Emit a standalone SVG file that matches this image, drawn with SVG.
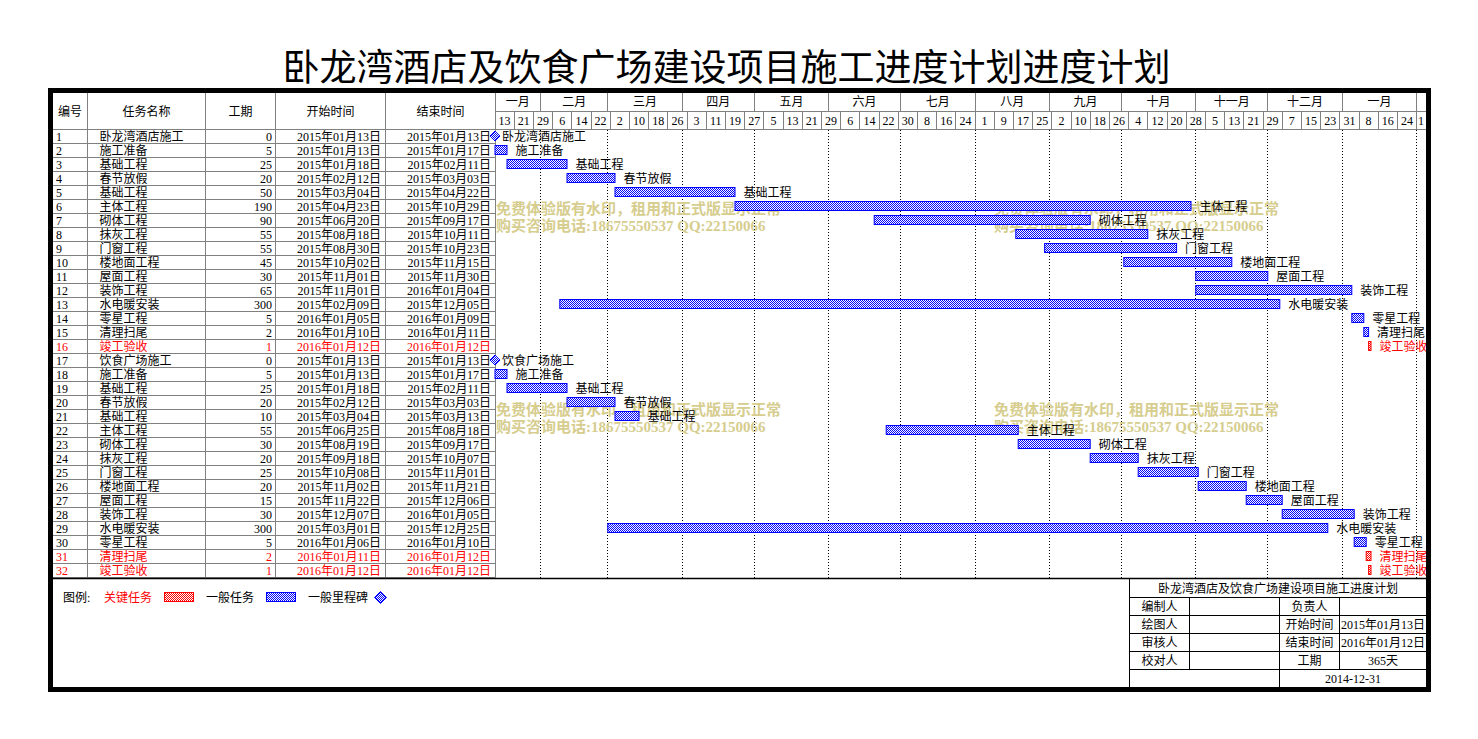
<svg xmlns="http://www.w3.org/2000/svg" width="1478" height="739" viewBox="0 0 1478 739">
<style>
.t{font-family:"Liberation Serif","Noto Sans CJK SC",serif;font-size:12px;fill:#000}
.r{fill:#f00}
.e{text-anchor:end}
.m{text-anchor:middle}
.g{stroke:#808080;stroke-width:1;fill:none}
.k{stroke:#000;stroke-width:1;fill:none}
.dot{stroke:#000;stroke-width:1;stroke-dasharray:1 2;fill:none}
.bar{fill:url(#pb);stroke:#00f;stroke-width:1}
.rbar{fill:url(#pr);stroke:#f00;stroke-width:1}
.ms{fill:url(#pb);stroke:#00f;stroke-width:1}
.wm{font-family:"Liberation Serif","Noto Sans CJK SC",serif;font-size:15px;font-weight:bold;fill:#d6cd8e}
.title{font-family:"Noto Sans CJK SC",sans-serif;font-size:37px;fill:#000}
</style>
<defs>
<pattern id="pb" width="2" height="2" patternUnits="userSpaceOnUse"><rect width="2" height="2" fill="#fff"/><rect width="1" height="1" fill="#00f"/><rect x="1" y="1" width="1" height="1" fill="#00f"/></pattern>
<pattern id="pr" width="2" height="2" patternUnits="userSpaceOnUse"><rect width="2" height="2" fill="#fff"/><rect width="1" height="1" fill="#f00"/><rect x="1" y="1" width="1" height="1" fill="#f00"/></pattern>
</defs>
<rect width="1478" height="739" fill="#fff"/>
<text class="title m" x="726.5" y="81">卧龙湾酒店及饮食广场建设项目施工进度计划进度计划</text>

<g id="grid">
<path class="g" d="M87.5 93V577.5M205.5 93V577.5M275.5 93V577.5M385.5 93V577.5M495.5 93V577.5"/>
<path class="g" d="M53 129.5H1426M495.5 111.5H1426"/>
<path class="g" d="M53 143.5H495.5M53 157.5H495.5M53 171.5H495.5M53 185.5H495.5M53 199.5H495.5M53 213.5H495.5M53 227.5H495.5M53 241.5H495.5M53 255.5H495.5M53 269.5H495.5M53 283.5H495.5M53 297.5H495.5M53 311.5H495.5M53 325.5H495.5M53 339.5H495.5M53 353.5H495.5M53 367.5H495.5M53 381.5H495.5M53 395.5H495.5M53 409.5H495.5M53 423.5H495.5M53 437.5H495.5M53 451.5H495.5M53 465.5H495.5M53 479.5H495.5M53 493.5H495.5M53 507.5H495.5M53 521.5H495.5M53 535.5H495.5M53 549.5H495.5M53 563.5H495.5M53 577.5H495.5"/>
<path class="g" d="M540.5 93V111.5M607.5 93V111.5M682.5 93V111.5M754.5 93V111.5M828.5 93V111.5M900.5 93V111.5M975.5 93V111.5M1049.5 93V111.5M1121.5 93V111.5M1195.5 93V111.5M1267.5 93V111.5M1342.5 93V111.5M1416.5 93V111.5"/>
<path class="g" d="M514.5 111.5V129.5M533.5 111.5V129.5M552.5 111.5V129.5M571.5 111.5V129.5M591.5 111.5V129.5M610.5 111.5V129.5M629.5 111.5V129.5M648.5 111.5V129.5M667.5 111.5V129.5M687.5 111.5V129.5M706.5 111.5V129.5M725.5 111.5V129.5M744.5 111.5V129.5M763.5 111.5V129.5M783.5 111.5V129.5M802.5 111.5V129.5M821.5 111.5V129.5M840.5 111.5V129.5M859.5 111.5V129.5M879.5 111.5V129.5M898.5 111.5V129.5M917.5 111.5V129.5M936.5 111.5V129.5M955.5 111.5V129.5M975.5 111.5V129.5M994.5 111.5V129.5M1013.5 111.5V129.5M1032.5 111.5V129.5M1051.5 111.5V129.5M1071.5 111.5V129.5M1090.5 111.5V129.5M1109.5 111.5V129.5M1128.5 111.5V129.5M1147.5 111.5V129.5M1167.5 111.5V129.5M1186.5 111.5V129.5M1205.5 111.5V129.5M1224.5 111.5V129.5M1243.5 111.5V129.5M1263.5 111.5V129.5M1282.5 111.5V129.5M1301.5 111.5V129.5M1320.5 111.5V129.5M1339.5 111.5V129.5M1359.5 111.5V129.5M1378.5 111.5V129.5M1397.5 111.5V129.5M1416.5 111.5V129.5"/>
<path class="dot" d="M540.5 130V578M607.5 130V578M682.5 130V578M754.5 130V578M828.5 130V578M900.5 130V578M975.5 130V578M1049.5 130V578M1121.5 130V578M1195.5 130V578M1267.5 130V578M1342.5 130V578M1416.5 130V578"/>
<path d="M53 578.5H1426" stroke="#000" stroke-width="1.5"/>
</g>

<g id="header">
<text class="t m" x="70" y="115.5">编号</text>
<text class="t m" x="146.5" y="115.5">任务名称</text>
<text class="t m" x="240.5" y="115.5">工期</text>
<text class="t m" x="330.5" y="115.5">开始时间</text>
<text class="t m" x="440.5" y="115.5">结束时间</text>
<text class="t m" x="517.8" y="106">一月</text>
<text class="t m" x="574.2" y="106">二月</text>
<text class="t m" x="645" y="106">三月</text>
<text class="t m" x="718.2" y="106">四月</text>
<text class="t m" x="791.4" y="106">五月</text>
<text class="t m" x="864.6" y="106">六月</text>
<text class="t m" x="937.8" y="106">七月</text>
<text class="t m" x="1012.2" y="106">八月</text>
<text class="t m" x="1085.4" y="106">九月</text>
<text class="t m" x="1158.6" y="106">十月</text>
<text class="t m" x="1231.8" y="106">十一月</text>
<text class="t m" x="1305" y="106">十二月</text>
<text class="t m" x="1379.4" y="106">一月</text>
<text class="t m" y="124.5"><tspan x="504.6">13</tspan><tspan x="523.8">21</tspan><tspan x="543">29</tspan><tspan x="562.2">6</tspan><tspan x="581.4">14</tspan><tspan x="600.6">22</tspan><tspan x="619.8">2</tspan><tspan x="639">10</tspan><tspan x="658.2">18</tspan><tspan x="677.4">26</tspan><tspan x="696.6">3</tspan><tspan x="715.8">11</tspan><tspan x="735">19</tspan><tspan x="754.2">27</tspan><tspan x="773.4">5</tspan><tspan x="792.6">13</tspan><tspan x="811.8">21</tspan><tspan x="831">29</tspan><tspan x="850.2">6</tspan><tspan x="869.4">14</tspan><tspan x="888.6">22</tspan><tspan x="907.8">30</tspan><tspan x="927">8</tspan><tspan x="946.2">16</tspan><tspan x="965.4">24</tspan><tspan x="984.6">1</tspan><tspan x="1003.8">9</tspan><tspan x="1023">17</tspan><tspan x="1042.2">25</tspan><tspan x="1061.4">2</tspan><tspan x="1080.6">10</tspan><tspan x="1099.8">18</tspan><tspan x="1119">26</tspan><tspan x="1138.2">4</tspan><tspan x="1157.4">12</tspan><tspan x="1176.6">20</tspan><tspan x="1195.8">28</tspan><tspan x="1215">5</tspan><tspan x="1234.2">13</tspan><tspan x="1253.4">21</tspan><tspan x="1272.6">29</tspan><tspan x="1291.8">7</tspan><tspan x="1311">15</tspan><tspan x="1330.2">23</tspan><tspan x="1349.4">31</tspan><tspan x="1368.6">8</tspan><tspan x="1387.8">16</tspan><tspan x="1407">24</tspan><tspan x="1421">1</tspan></text>
</g>

<g id="watermarks">
<text class="wm" x="496" y="214">免费体验版有水印，租用和正式版显示正常</text>
<text class="wm" x="496" y="231">购买咨询电话:18675550537 QQ:22150066</text>
<text class="wm" x="994" y="214">免费体验版有水印，租用和正式版显示正常</text>
<text class="wm" x="994" y="231">购买咨询电话:18675550537 QQ:22150066</text>
<text class="wm" x="496" y="414.5">免费体验版有水印，租用和正式版显示正常</text>
<text class="wm" x="496" y="432">购买咨询电话:18675550537 QQ:22150066</text>
<text class="wm" x="994" y="414.5">免费体验版有水印，租用和正式版显示正常</text>
<text class="wm" x="994" y="432">购买咨询电话:18675550537 QQ:22150066</text>
</g>

<g id="connectors"></g>

<g id="task-1"><text class="t" x="56" y="141">1</text><text class="t" x="99.5" y="141">卧龙湾酒店施工</text><text class="t e" x="272" y="141">0</text><text class="t e" x="381" y="141">2015年01月13日</text><text class="t e" x="491" y="141">2015年01月13日</text><polygon class="ms" points="495,131 500,136 495,141 490,136"/><text class="t" x="502" y="141">卧龙湾酒店施工</text></g>
<g id="task-2"><text class="t" x="56" y="155">2</text><text class="t" x="99.5" y="155">施工准备</text><text class="t e" x="272" y="155">5</text><text class="t e" x="381" y="155">2015年01月13日</text><text class="t e" x="491" y="155">2015年01月17日</text><rect class="bar" x="495" y="145.5" width="12" height="9"/><text class="t" x="515.5" y="155">施工准备</text></g>
<g id="task-3"><text class="t" x="56" y="169">3</text><text class="t" x="99.5" y="169">基础工程</text><text class="t e" x="272" y="169">25</text><text class="t e" x="381" y="169">2015年01月18日</text><text class="t e" x="491" y="169">2015年02月11日</text><rect class="bar" x="507" y="159.5" width="60" height="9"/><text class="t" x="575.5" y="169">基础工程</text></g>
<g id="task-4"><text class="t" x="56" y="183">4</text><text class="t" x="99.5" y="183">春节放假</text><text class="t e" x="272" y="183">20</text><text class="t e" x="381" y="183">2015年02月12日</text><text class="t e" x="491" y="183">2015年03月03日</text><rect class="bar" x="567" y="173.5" width="48" height="9"/><text class="t" x="623.5" y="183">春节放假</text></g>
<g id="task-5"><text class="t" x="56" y="197">5</text><text class="t" x="99.5" y="197">基础工程</text><text class="t e" x="272" y="197">50</text><text class="t e" x="381" y="197">2015年03月04日</text><text class="t e" x="491" y="197">2015年04月22日</text><rect class="bar" x="615" y="187.5" width="120" height="9"/><text class="t" x="743.5" y="197">基础工程</text></g>
<g id="task-6"><text class="t" x="56" y="211">6</text><text class="t" x="99.5" y="211">主体工程</text><text class="t e" x="272" y="211">190</text><text class="t e" x="381" y="211">2015年04月23日</text><text class="t e" x="491" y="211">2015年10月29日</text><rect class="bar" x="735" y="201.5" width="456" height="9"/><text class="t" x="1199.5" y="211">主体工程</text></g>
<g id="task-7"><text class="t" x="56" y="225">7</text><text class="t" x="99.5" y="225">砌体工程</text><text class="t e" x="272" y="225">90</text><text class="t e" x="381" y="225">2015年06月20日</text><text class="t e" x="491" y="225">2015年09月17日</text><rect class="bar" x="874.2" y="215.5" width="216" height="9"/><text class="t" x="1098.7" y="225">砌体工程</text></g>
<g id="task-8"><text class="t" x="56" y="239">8</text><text class="t" x="99.5" y="239">抹灰工程</text><text class="t e" x="272" y="239">55</text><text class="t e" x="381" y="239">2015年08月18日</text><text class="t e" x="491" y="239">2015年10月11日</text><rect class="bar" x="1015.8" y="229.5" width="132" height="9"/><text class="t" x="1156.3" y="239">抹灰工程</text></g>
<g id="task-9"><text class="t" x="56" y="253">9</text><text class="t" x="99.5" y="253">门窗工程</text><text class="t e" x="272" y="253">55</text><text class="t e" x="381" y="253">2015年08月30日</text><text class="t e" x="491" y="253">2015年10月23日</text><rect class="bar" x="1044.6" y="243.5" width="132" height="9"/><text class="t" x="1185.1" y="253">门窗工程</text></g>
<g id="task-10"><text class="t" x="56" y="267">10</text><text class="t" x="99.5" y="267">楼地面工程</text><text class="t e" x="272" y="267">45</text><text class="t e" x="381" y="267">2015年10月02日</text><text class="t e" x="491" y="267">2015年11月15日</text><rect class="bar" x="1123.8" y="257.5" width="108" height="9"/><text class="t" x="1240.3" y="267">楼地面工程</text></g>
<g id="task-11"><text class="t" x="56" y="281">11</text><text class="t" x="99.5" y="281">屋面工程</text><text class="t e" x="272" y="281">30</text><text class="t e" x="381" y="281">2015年11月01日</text><text class="t e" x="491" y="281">2015年11月30日</text><rect class="bar" x="1195.8" y="271.5" width="72" height="9"/><text class="t" x="1276.3" y="281">屋面工程</text></g>
<g id="task-12"><text class="t" x="56" y="295">12</text><text class="t" x="99.5" y="295">装饰工程</text><text class="t e" x="272" y="295">65</text><text class="t e" x="381" y="295">2015年11月01日</text><text class="t e" x="491" y="295">2016年01月04日</text><rect class="bar" x="1195.8" y="285.5" width="156" height="9"/><text class="t" x="1360.3" y="295">装饰工程</text></g>
<g id="task-13"><text class="t" x="56" y="309">13</text><text class="t" x="99.5" y="309">水电暖安装</text><text class="t e" x="272" y="309">300</text><text class="t e" x="381" y="309">2015年02月09日</text><text class="t e" x="491" y="309">2015年12月05日</text><rect class="bar" x="559.8" y="299.5" width="720" height="9"/><text class="t" x="1288.3" y="309">水电暖安装</text></g>
<g id="task-14"><text class="t" x="56" y="323">14</text><text class="t" x="99.5" y="323">零星工程</text><text class="t e" x="272" y="323">5</text><text class="t e" x="381" y="323">2016年01月05日</text><text class="t e" x="491" y="323">2016年01月09日</text><rect class="bar" x="1351.8" y="313.5" width="12" height="9"/><text class="t" x="1372.3" y="323">零星工程</text></g>
<g id="task-15"><text class="t" x="56" y="337">15</text><text class="t" x="99.5" y="337">清理扫尾</text><text class="t e" x="272" y="337">2</text><text class="t e" x="381" y="337">2016年01月10日</text><text class="t e" x="491" y="337">2016年01月11日</text><rect class="bar" x="1363.8" y="327.5" width="4.8" height="9"/><text class="t" x="1377.1" y="337">清理扫尾</text></g>
<g id="task-16"><text class="t r" x="56" y="351">16</text><text class="t r" x="99.5" y="351">竣工验收</text><text class="t r e" x="272" y="351">1</text><text class="t r e" x="381" y="351">2016年01月12日</text><text class="t r e" x="491" y="351">2016年01月12日</text><rect class="rbar" x="1368.6" y="341.5" width="2.4" height="9"/><text class="t r" x="1379.5" y="351">竣工验收</text></g>
<g id="task-17"><text class="t" x="56" y="365">17</text><text class="t" x="99.5" y="365">饮食广场施工</text><text class="t e" x="272" y="365">0</text><text class="t e" x="381" y="365">2015年01月13日</text><text class="t e" x="491" y="365">2015年01月13日</text><polygon class="ms" points="495,355 500,360 495,365 490,360"/><text class="t" x="502" y="365">饮食广场施工</text></g>
<g id="task-18"><text class="t" x="56" y="379">18</text><text class="t" x="99.5" y="379">施工准备</text><text class="t e" x="272" y="379">5</text><text class="t e" x="381" y="379">2015年01月13日</text><text class="t e" x="491" y="379">2015年01月17日</text><rect class="bar" x="495" y="369.5" width="12" height="9"/><text class="t" x="515.5" y="379">施工准备</text></g>
<g id="task-19"><text class="t" x="56" y="393">19</text><text class="t" x="99.5" y="393">基础工程</text><text class="t e" x="272" y="393">25</text><text class="t e" x="381" y="393">2015年01月18日</text><text class="t e" x="491" y="393">2015年02月11日</text><rect class="bar" x="507" y="383.5" width="60" height="9"/><text class="t" x="575.5" y="393">基础工程</text></g>
<g id="task-20"><text class="t" x="56" y="407">20</text><text class="t" x="99.5" y="407">春节放假</text><text class="t e" x="272" y="407">20</text><text class="t e" x="381" y="407">2015年02月12日</text><text class="t e" x="491" y="407">2015年03月03日</text><rect class="bar" x="567" y="397.5" width="48" height="9"/><text class="t" x="623.5" y="407">春节放假</text></g>
<g id="task-21"><text class="t" x="56" y="421">21</text><text class="t" x="99.5" y="421">基础工程</text><text class="t e" x="272" y="421">10</text><text class="t e" x="381" y="421">2015年03月04日</text><text class="t e" x="491" y="421">2015年03月13日</text><rect class="bar" x="615" y="411.5" width="24" height="9"/><text class="t" x="647.5" y="421">基础工程</text></g>
<g id="task-22"><text class="t" x="56" y="435">22</text><text class="t" x="99.5" y="435">主体工程</text><text class="t e" x="272" y="435">55</text><text class="t e" x="381" y="435">2015年06月25日</text><text class="t e" x="491" y="435">2015年08月18日</text><rect class="bar" x="886.2" y="425.5" width="132" height="9"/><text class="t" x="1026.7" y="435">主体工程</text></g>
<g id="task-23"><text class="t" x="56" y="449">23</text><text class="t" x="99.5" y="449">砌体工程</text><text class="t e" x="272" y="449">30</text><text class="t e" x="381" y="449">2015年08月19日</text><text class="t e" x="491" y="449">2015年09月17日</text><rect class="bar" x="1018.2" y="439.5" width="72" height="9"/><text class="t" x="1098.7" y="449">砌体工程</text></g>
<g id="task-24"><text class="t" x="56" y="463">24</text><text class="t" x="99.5" y="463">抹灰工程</text><text class="t e" x="272" y="463">20</text><text class="t e" x="381" y="463">2015年09月18日</text><text class="t e" x="491" y="463">2015年10月07日</text><rect class="bar" x="1090.2" y="453.5" width="48" height="9"/><text class="t" x="1146.7" y="463">抹灰工程</text></g>
<g id="task-25"><text class="t" x="56" y="477">25</text><text class="t" x="99.5" y="477">门窗工程</text><text class="t e" x="272" y="477">25</text><text class="t e" x="381" y="477">2015年10月08日</text><text class="t e" x="491" y="477">2015年11月01日</text><rect class="bar" x="1138.2" y="467.5" width="60" height="9"/><text class="t" x="1206.7" y="477">门窗工程</text></g>
<g id="task-26"><text class="t" x="56" y="491">26</text><text class="t" x="99.5" y="491">楼地面工程</text><text class="t e" x="272" y="491">20</text><text class="t e" x="381" y="491">2015年11月02日</text><text class="t e" x="491" y="491">2015年11月21日</text><rect class="bar" x="1198.2" y="481.5" width="48" height="9"/><text class="t" x="1254.7" y="491">楼地面工程</text></g>
<g id="task-27"><text class="t" x="56" y="505">27</text><text class="t" x="99.5" y="505">屋面工程</text><text class="t e" x="272" y="505">15</text><text class="t e" x="381" y="505">2015年11月22日</text><text class="t e" x="491" y="505">2015年12月06日</text><rect class="bar" x="1246.2" y="495.5" width="36" height="9"/><text class="t" x="1290.7" y="505">屋面工程</text></g>
<g id="task-28"><text class="t" x="56" y="519">28</text><text class="t" x="99.5" y="519">装饰工程</text><text class="t e" x="272" y="519">30</text><text class="t e" x="381" y="519">2015年12月07日</text><text class="t e" x="491" y="519">2016年01月05日</text><rect class="bar" x="1282.2" y="509.5" width="72" height="9"/><text class="t" x="1362.7" y="519">装饰工程</text></g>
<g id="task-29"><text class="t" x="56" y="533">29</text><text class="t" x="99.5" y="533">水电暖安装</text><text class="t e" x="272" y="533">300</text><text class="t e" x="381" y="533">2015年03月01日</text><text class="t e" x="491" y="533">2015年12月25日</text><rect class="bar" x="607.8" y="523.5" width="720" height="9"/><text class="t" x="1336.3" y="533">水电暖安装</text></g>
<g id="task-30"><text class="t" x="56" y="547">30</text><text class="t" x="99.5" y="547">零星工程</text><text class="t e" x="272" y="547">5</text><text class="t e" x="381" y="547">2016年01月06日</text><text class="t e" x="491" y="547">2016年01月10日</text><rect class="bar" x="1354.2" y="537.5" width="12" height="9"/><text class="t" x="1374.7" y="547">零星工程</text></g>
<g id="task-31"><text class="t r" x="56" y="561">31</text><text class="t r" x="99.5" y="561">清理扫尾</text><text class="t r e" x="272" y="561">2</text><text class="t r e" x="381" y="561">2016年01月11日</text><text class="t r e" x="491" y="561">2016年01月12日</text><rect class="rbar" x="1366.2" y="551.5" width="4.8" height="9"/><text class="t r" x="1379.5" y="561">清理扫尾</text></g>
<g id="task-32"><text class="t r" x="56" y="575">32</text><text class="t r" x="99.5" y="575">竣工验收</text><text class="t r e" x="272" y="575">1</text><text class="t r e" x="381" y="575">2016年01月12日</text><text class="t r e" x="491" y="575">2016年01月12日</text><rect class="rbar" x="1368.6" y="565.5" width="2.4" height="9"/><text class="t r" x="1379.5" y="575">竣工验收</text></g>

<g id="legend">
<text class="t" x="63" y="601.5">图例:</text>
<text class="t r" x="104" y="601.5">关键任务</text>
<rect class="rbar" x="164.5" y="592.5" width="29" height="9"/>
<text class="t" x="206" y="601.5">一般任务</text>
<rect class="bar" x="266.5" y="592.5" width="29" height="9"/>
<text class="t" x="308" y="601.5">一般里程碑</text>
<polygon class="ms" points="380.5,591.5 386.5,597.5 380.5,603.5 374.5,597.5"/>
</g>

<g id="title-block">
<path class="k" d="M1129.5 578.5V687M1129.5 597.5H1426M1129.5 615.5H1426M1129.5 633.5H1426M1129.5 651.5H1426M1129.5 669.5H1426M1189.5 597.5V669.5M1279.5 597.5V687M1339.5 597.5V669.5"/>
<text class="t m" x="1278" y="592.5">卧龙湾酒店及饮食广场建设项目施工进度计划</text>
<text class="t m" x="1159.5" y="611">编制人</text>
<text class="t m" x="1309.5" y="611">负责人</text>
<text class="t m" x="1159.5" y="629">绘图人</text>
<text class="t m" x="1309.5" y="629">开始时间</text>
<text class="t m" x="1383" y="629">2015年01月13日</text>
<text class="t m" x="1159.5" y="647">审核人</text>
<text class="t m" x="1309.5" y="647">结束时间</text>
<text class="t m" x="1383" y="647">2016年01月12日</text>
<text class="t m" x="1159.5" y="665">校对人</text>
<text class="t m" x="1309.5" y="665">工期</text>
<text class="t m" x="1383" y="665">365天</text>
<text class="t m" x="1353" y="683">2014-12-31</text>
</g>

<rect id="frame" x="50.5" y="90.5" width="1378" height="599" fill="none" stroke="#000" stroke-width="5"/>
</svg>
